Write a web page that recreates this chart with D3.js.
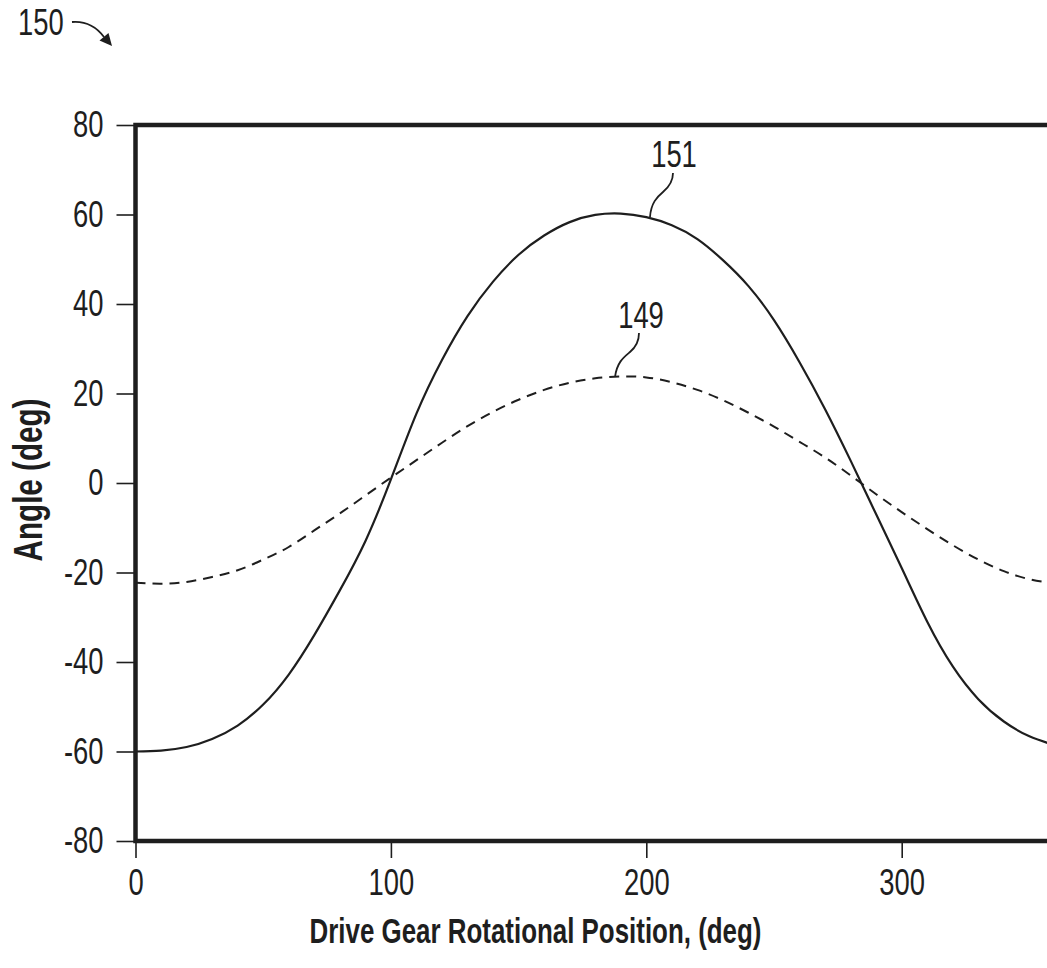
<!DOCTYPE html>
<html><head><meta charset="utf-8">
<script src="https://cdn.jsdelivr.net/npm/d3@7"></script>
<style>body{margin:0;background:#fff}svg{display:block}</style>
</head><body>
<svg id="c" width="1047" height="968"></svg>
<script>
// ---- data ----
const positionDeg = [0,10,20,30,40,50,60,70,80,90,100,110,120,130,140,150,160,170,180,190,200,210,220,230,240,250,260,270,280,290,300,310,320,330,340,350,360];
const curve151 = [-60,-59.8,-59,-57.2,-54.2,-49.5,-42.8,-34,-24,-13,0.8,15.5,27.5,37.3,45,51,55.3,58.3,59.9,60.2,59.4,57.6,54.5,49.8,44,36.4,27,16.5,5,-7,-19,-31,-41,-48.3,-53.3,-56.6,-58.6];
const curve149 = [-22.3,-22.5,-22.1,-21,-19.5,-17.1,-14.3,-10.6,-6.8,-2.8,1.2,5.1,9,12.7,15.9,18.6,20.8,22.4,23.4,23.8,23.6,22.5,20.8,18.5,15.7,12.6,9.2,5.7,1.7,-2.5,-6.5,-10.3,-13.9,-17.1,-19.7,-21.5,-22.4];
const xTicks = [0,100,200,300];
const yTicks = [-80,-60,-40,-20,0,20,40,60,80];
const xTitle = "Drive Gear Rotational Position, (deg)";
const yTitle = "Angle (deg)";
const figRef = "150", ref151 = "151", ref149 = "149";

// ---- drawing ----
const ink = "#1e1e1e";
const svg = d3.select("#c");
const x = d3.scaleLinear().domain([0, 360]).range([135.5, 135.5 + 360 * 2.554]);
const y = d3.scaleLinear().domain([-80, 80]).range([841, 125]);
const FONT = "'Liberation Sans', Arial, sans-serif";

// axes
const gy = svg.append("g").attr("transform", `translate(${x(0)},0)`)
  .call(d3.axisLeft(y).tickValues(yTicks).tickSize(19).tickPadding(13).tickFormat(d => String(d)));
const gx = svg.append("g").attr("transform", `translate(0,${y(-80)})`)
  .call(d3.axisBottom(x).tickValues(xTicks).tickSize(17).tickPadding(11).tickFormat(d => String(d)));
[gx, gy].forEach(g => {
  g.select(".domain").remove();
  g.selectAll(".tick line").attr("stroke", ink).attr("stroke-width", 1.6);
  g.selectAll(".tick text").attr("fill", ink).attr("font-family", FONT).attr("font-size", 37).classed("cond", true);
});

// curves
const line = d3.line().x((d, i) => x(positionDeg[i])).y(d => y(d)).curve(d3.curveNatural);
svg.append("path").datum(curve149).attr("d", line)
  .attr("fill", "none").attr("stroke", ink).attr("stroke-width", 2).attr("stroke-dasharray", "10,7");
svg.append("path").datum(curve151).attr("d", line)
  .attr("fill", "none").attr("stroke", ink).attr("stroke-width", 2.2);

// frame
svg.append("rect")
  .attr("x", x(0)).attr("y", y(80))
  .attr("width", x(360) - x(0)).attr("height", y(-80) - y(80))
  .attr("fill", "none").attr("stroke", ink).attr("stroke-width", 4.5);

// titles
svg.append("text").attr("x", 535.5).attr("y", 943).attr("text-anchor", "middle")
  .attr("font-family", FONT).attr("font-weight", "bold").attr("font-size", 35)
  .attr("fill", ink).classed("cond", true).text(xTitle);
svg.append("text").attr("transform", "translate(42,480) rotate(-90)").attr("text-anchor", "middle")
  .attr("font-family", FONT).attr("font-weight", "bold").attr("font-size", 40)
  .attr("fill", ink).classed("cond", true).text(yTitle);

// reference numerals
svg.append("text").attr("x", 18).attr("y", 35).attr("font-family", FONT).attr("font-size", 37)
  .attr("fill", ink).classed("cond", true).text(figRef);
svg.append("text").attr("x", 674).attr("y", 167).attr("text-anchor", "middle").attr("font-family", FONT).attr("font-size", 37)
  .attr("fill", ink).classed("cond", true).text(ref151);
svg.append("text").attr("x", 641).attr("y", 328).attr("text-anchor", "middle").attr("font-family", FONT).attr("font-size", 37)
  .attr("fill", ink).classed("cond", true).text(ref149);

// leader lines
const lead = svg.append("g").attr("fill", "none").attr("stroke", ink).attr("stroke-width", 1.8);
lead.append("path").attr("d", "M673,173 C673,181 669,187 663,192 S651,203 650,217");
lead.append("path").attr("d", "M639,333 C639,341 636,347 630,352 S617,362 615,377");
lead.append("path").attr("d", "M72,22 C84,21 95,25 104,37");
svg.append("path").attr("d", "M112,46 L99.5,40.5 L108.5,33 Z").attr("fill", ink);

// condensed lettering (the reference uses a narrow face)
svg.selectAll("text.cond").each(function () {
  const w = this.getComputedTextLength();
  d3.select(this).attr("textLength", w * 0.74).attr("lengthAdjust", "spacingAndGlyphs");
});
</script>
</body></html>
